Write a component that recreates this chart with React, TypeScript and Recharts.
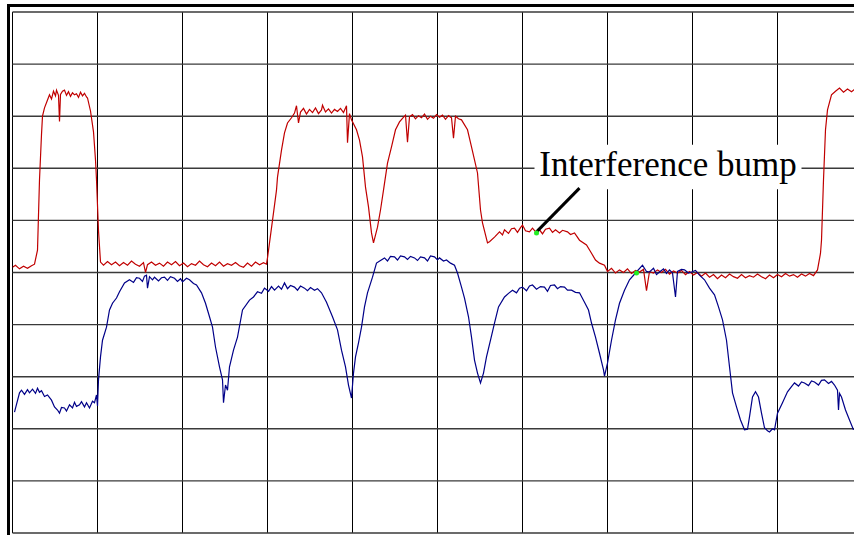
import { LineChart, Line, XAxis, YAxis, CartesianGrid, ReferenceArea, ReferenceLine, ReferenceDot } from 'recharts'

// sample index (t) vs. level in grid units (10 per division)
const RED_TRACE: [number, number][] = [
  [0, 51.0], [3, 51.4], [7, 50.7], [11, 51.2], [15, 50.8], [19, 51.3], [22, 51.6], [25, 54.3], [27, 67.8], [29, 76.5],
  [30, 80.0], [32, 81.6], [35, 83.1], [37, 84.1], [39, 83.3], [41, 84.8], [43, 83.9], [44, 85.0], [46, 84.0], [47, 79.0],
  [48, 84.2], [50, 84.8], [52, 85.0], [54, 84.0], [56, 84.7], [58, 83.8], [60, 84.5], [62, 84.1], [64, 84.3], [66, 83.6],
  [68, 84.6], [70, 83.9], [72, 84.4], [74, 83.7], [75, 83.5], [78, 81.0], [81, 77.0], [83, 71.6], [84, 67.8], [86, 58.0],
  [88, 52.0], [91, 51.4], [95, 52.1], [99, 51.5], [103, 52.0], [107, 51.3], [111, 51.9], [115, 51.4], [119, 52.2], [123, 51.6],
  [127, 51.2], [131, 51.9], [133, 50.0], [135, 51.5], [139, 52.0], [143, 51.4], [147, 51.8], [151, 51.2], [155, 52.0], [159, 51.5],
  [163, 52.1], [167, 51.3], [171, 51.8], [175, 51.1], [179, 51.7], [183, 51.4], [187, 52.2], [191, 51.5], [195, 51.1], [199, 51.8],
  [203, 51.3], [207, 52.0], [211, 51.2], [215, 51.7], [219, 51.4], [223, 51.9], [227, 51.3], [231, 51.0], [235, 51.8], [239, 51.2],
  [243, 52.0], [247, 51.5], [251, 51.9], [254, 51.6], [255, 52.8], [257, 55.7], [260, 60.0], [264, 65.8], [265, 68.3], [269, 73.5],
  [272, 76.8], [275, 78.7], [279, 79.7], [282, 80.6], [284, 82.0], [286, 78.7], [288, 80.8], [291, 81.5], [294, 80.4], [297, 81.3],
  [300, 80.7], [303, 81.6], [306, 80.5], [309, 81.2], [310, 82.1], [313, 80.8], [316, 81.4], [319, 80.6], [322, 81.3], [325, 80.9],
  [328, 81.5], [331, 80.7], [334, 82.0], [335, 74.9], [337, 80.5], [339, 79.3], [344, 77.4], [347, 75.4], [350, 72.2], [353, 66.4],
  [356, 62.6], [359, 57.6], [361, 55.7], [365, 58.7], [368, 62.0], [371, 65.8], [375, 71.0], [379, 74.1], [383, 77.4], [387, 78.9],
  [390, 79.6], [393, 80.2], [395, 75.0], [397, 79.9], [400, 80.3], [403, 79.5], [406, 80.1], [409, 79.7], [412, 80.4], [415, 79.4],
  [418, 80.0], [421, 79.6], [424, 80.3], [427, 79.8], [430, 80.2], [433, 79.4], [436, 80.1], [439, 79.7], [441, 75.8], [443, 80.0],
  [446, 79.5], [449, 79.3], [455, 77.4], [459, 74.1], [462, 71.6], [465, 69.1], [468, 62.0], [470, 59.5], [475, 55.7], [477, 55.9],
  [482, 56.8], [487, 57.8], [490, 57.2], [492, 58.2], [496, 57.5], [499, 58.4], [502, 58.5], [505, 57.7], [508, 58.6], [510, 59.1],
  [513, 58.0], [517, 57.8], [520, 58.5], [524, 57.6], [527, 58.2], [530, 57.4], [533, 58.3], [537, 58.5], [540, 57.7], [543, 58.2],
  [547, 57.6], [550, 58.1], [555, 57.8], [558, 57.3], [562, 57.6], [567, 56.2], [574, 55.3], [579, 53.7], [583, 52.4], [587, 51.8],
  [592, 51.4], [595, 50.2], [599, 50.8], [603, 49.9], [607, 50.5], [611, 50.0], [615, 50.7], [619, 49.8], [623, 50.4], [627, 50.1],
  [631, 50.6], [634, 46.5], [637, 50.2], [641, 49.9], [645, 50.5], [649, 50.0], [653, 50.6], [657, 49.7], [661, 50.3], [665, 49.9],
  [669, 50.4], [673, 49.6], [677, 50.2], [681, 49.5], [685, 50.0], [689, 49.3], [693, 49.9], [697, 49.1], [701, 49.6], [705, 48.8],
  [709, 49.5], [713, 49.0], [717, 49.7], [721, 49.2], [725, 48.9], [729, 49.6], [733, 49.0], [737, 49.4], [741, 49.1], [745, 49.7],
  [749, 49.2], [753, 48.8], [757, 49.5], [761, 49.0], [765, 49.6], [769, 49.2], [773, 49.8], [777, 49.3], [781, 49.6], [785, 49.1],
  [789, 49.7], [793, 49.3], [797, 49.8], [801, 49.4], [805, 50.5], [808, 53.7], [809, 56.2], [811, 67.8], [813, 77.4], [815, 81.2],
  [819, 84.1], [823, 84.8], [827, 85.4], [831, 84.6], [835, 85.2], [839, 84.7], [843, 85.3],
]

const BLUE_TRACE: [number, number][] = [
  [2, 23.2], [7, 26.9], [9, 27.4], [12, 26.6], [15, 27.5], [17, 26.9], [20, 27.6], [23, 26.8], [25, 27.8], [27, 27.0],
  [29, 27.3], [32, 26.2], [35, 26.5], [39, 25.5], [42, 24.2], [45, 23.6], [47, 23.0], [49, 24.1], [52, 24.0], [54, 23.4],
  [57, 24.6], [60, 24.0], [62, 25.1], [64, 24.3], [67, 24.6], [69, 25.2], [72, 24.2], [74, 25.0], [77, 24.0], [80, 25.3],
  [82, 25.0], [84, 26.5], [85, 24.4], [86, 29.4], [88, 33.8], [90, 37.0], [94, 39.5], [97, 42.8], [100, 44.1], [104, 45.1],
  [107, 46.3], [112, 48.0], [117, 48.6], [121, 48.1], [124, 49.0], [127, 48.9], [130, 48.3], [132, 49.3], [134, 49.5], [135, 47.0],
  [137, 49.2], [140, 48.6], [142, 49.1], [146, 48.4], [149, 49.0], [152, 49.1], [155, 48.5], [158, 49.2], [162, 48.9], [165, 48.3],
  [168, 48.8], [170, 48.2], [174, 48.9], [177, 48.6], [181, 47.9], [184, 47.6], [189, 46.1], [193, 44.1], [197, 41.5], [200, 39.5],
  [203, 35.7], [207, 31.9], [210, 29.4], [211, 25.0], [213, 28.4], [215, 27.4], [217, 31.9], [221, 35.1], [225, 37.6], [230, 42.8],
  [237, 44.7], [241, 45.3], [245, 46.3], [249, 46.0], [252, 47.0], [256, 46.4], [259, 47.3], [262, 46.6], [266, 47.4], [269, 46.8],
  [272, 48.0], [275, 46.9], [278, 47.5], [282, 47.2], [285, 46.6], [288, 47.4], [292, 47.0], [295, 46.5], [298, 47.1], [302, 46.6],
  [305, 46.9], [309, 46.1], [314, 44.3], [320, 41.5], [325, 39.0], [329, 35.1], [333, 31.9], [336, 28.4], [339, 25.9], [341, 30.7],
  [343, 33.8], [346, 36.5], [349, 39.5], [352, 43.4], [355, 46.1], [360, 49.1], [364, 51.8], [368, 52.3], [372, 52.8], [375, 52.2],
  [378, 53.1], [382, 53.0], [385, 52.4], [388, 53.2], [392, 53.0], [395, 52.5], [398, 53.1], [402, 52.8], [405, 52.3], [408, 53.0],
  [412, 52.8], [415, 52.2], [418, 53.2], [422, 53.0], [425, 52.4], [427, 52.8], [431, 52.2], [434, 52.4], [438, 51.8], [442, 51.4],
  [445, 49.9], [449, 47.2], [452, 45.1], [456, 41.5], [459, 37.6], [462, 33.2], [465, 30.7], [468, 28.8], [471, 30.7], [474, 33.8],
  [478, 37.0], [482, 40.3], [486, 43.4], [492, 45.3], [496, 46.0], [500, 46.6], [504, 46.1], [507, 47.0], [510, 47.2], [514, 46.5],
  [517, 47.4], [520, 47.6], [524, 46.8], [528, 47.3], [532, 47.2], [535, 46.4], [538, 47.5], [542, 47.6], [545, 46.9], [548, 47.3],
  [552, 47.2], [555, 46.6], [559, 46.6], [563, 46.2], [567, 46.1], [572, 44.3], [576, 42.8], [579, 40.3], [583, 37.6], [587, 34.5],
  [591, 31.3], [592, 30.1], [595, 32.6], [599, 37.0], [603, 40.9], [607, 44.1], [612, 46.6], [617, 48.6], [623, 49.9], [630, 51.4],
  [634, 50.2], [637, 50.1], [641, 50.8], [644, 49.6], [647, 50.1], [651, 50.7], [654, 49.8], [657, 50.5], [660, 49.9], [663, 45.3],
  [665, 50.2], [669, 50.6], [672, 50.5], [676, 49.9], [679, 50.1], [683, 50.4], [687, 49.5], [692, 48.6], [697, 47.0], [702, 45.7],
  [706, 43.4], [710, 40.9], [714, 37.0], [717, 31.9], [720, 26.9], [724, 24.2], [728, 21.7], [732, 19.8], [735, 19.9], [737, 22.3],
  [740, 26.1], [743, 27.1], [746, 26.1], [749, 23.0], [752, 20.2], [755, 19.6], [757, 19.4], [760, 20.0], [762, 19.8], [765, 23.0],
  [770, 25.0], [775, 27.1], [779, 28.1], [782, 28.8], [786, 28.2], [789, 29.0], [792, 28.8], [796, 28.3], [799, 29.2], [802, 29.0],
  [806, 28.4], [809, 29.3], [812, 29.4], [816, 28.7], [819, 29.1], [822, 28.4], [825, 27.4], [826, 23.6], [827, 26.8], [829, 26.1],
  [833, 23.6], [837, 21.7], [841, 19.8],
]

// green cursor markers
const MARKERS: [number, number][] = [[524, 57.6], [624, 49.9]]

// annotation
const LABEL_TEXT = 'Interference bump'
const LABEL_BOX = { x1: 522, x2: 789, y1: 66.0, y2: 74.5 }
const ARROW: [number, number][] = [[567, 66.2], [524, 57.8]]

const X_TICKS = [0, 85, 170, 255, 340, 425, 510, 595, 680, 765, 850]
const Y_TICKS = [0, 10, 20, 30, 40, 50, 60, 70, 80, 90, 100]

const redData = RED_TRACE.map(([t, v]) => ({ t, v }))
const blueData = BLUE_TRACE.map(([t, v]) => ({ t, v }))

const BumpLabel = (props: any) => {
  const vb = props.viewBox || {}
  return (
    <text
      x={vb.x + vb.width / 2}
      y={vb.y + 31}
      textAnchor="middle"
      fontFamily='"Liberation Serif", "Times New Roman", serif'
      fontSize={35}
      fill="#000"
    >
      {LABEL_TEXT}
    </text>
  )
}

export default function App() {
  return (
    <div style={{ position: 'fixed', left: 0, top: 0, width: 854, height: 535, overflow: 'hidden', background: '#fff' }}>
      {/* outer frame */}
      <div
        style={{
          position: 'absolute',
          left: 7,
          top: 4,
          width: 900,
          height: 600,
          borderLeft: '3px solid #000',
          borderTop: '3px solid #000',
        }}
      />
      <div style={{ position: 'absolute', left: 0, top: 0 }}>
        <LineChart width={870} height={545} margin={{ top: 12, right: 7.5, bottom: 12, left: 12.5 }}>
          <XAxis type="number" dataKey="t" domain={[0, 850]} ticks={X_TICKS} hide allowDataOverflow />
          <YAxis type="number" domain={[0, 100]} ticks={Y_TICKS} hide allowDataOverflow />
          <CartesianGrid horizontal={false} stroke="#000" strokeWidth={1} />
          <CartesianGrid vertical={false} stroke="#3a3a3a" strokeWidth={1.4} />
          <ReferenceArea
            x1={LABEL_BOX.x1}
            x2={LABEL_BOX.x2}
            y1={LABEL_BOX.y1}
            y2={LABEL_BOX.y2}
            fill="#fff"
            fillOpacity={1}
            stroke="none"
            label={<BumpLabel />}
          />
          <Line
            data={redData}
            dataKey="v"
            type="linear"
            stroke="#c00000"
            strokeWidth={1.2}
            dot={false}
            isAnimationActive={false}
          />
          <Line
            data={blueData}
            dataKey="v"
            type="linear"
            stroke="#000088"
            strokeWidth={1.2}
            dot={false}
            isAnimationActive={false}
          />
          <ReferenceLine
            segment={[{ x: ARROW[0][0], y: ARROW[0][1] }, { x: ARROW[1][0], y: ARROW[1][1] }]}
            stroke="#000"
            strokeWidth={3}
          />
          {MARKERS.map(([t, v]) => (
            <ReferenceDot key={t} x={t} y={v} r={2.5} fill="#22ee22" stroke="none" />
          ))}
        </LineChart>
      </div>
    </div>
  )
}
